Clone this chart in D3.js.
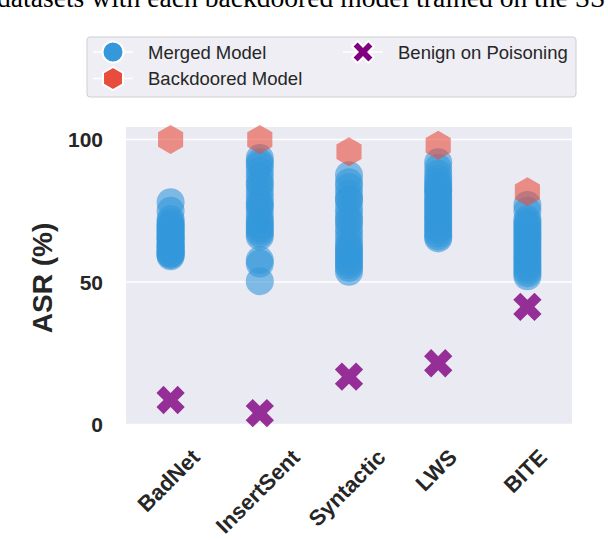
<!DOCTYPE html>
<html>
<head>
<meta charset="utf-8">
<script src="https://cdn.jsdelivr.net/npm/d3@7"></script>
<style>
  html, body { margin: 0; padding: 0; background: #ffffff; }
  svg { display: block; }
</style>
</head>
<body>
<svg id="chart" width="608" height="540"></svg>
<script>
// ---------------- data ----------------
const categories = ["BadNet", "InsertSent", "Syntactic", "LWS", "BITE"];

const mergedBadNet = [78, 75, 72, 71, 70, 69, 68, 67, 66, 66, 65, 64, 63, 63, 62, 62, 61, 61, 60, 60, 59.5, 59, 70, 68, 65];
const mergedInsertSent = [93.5, 92, 91, 89, 87, 85, 84, 82, 80, 78, 77, 76, 74, 72, 71, 70, 69, 68, 67, 66, 57.7, 56.5, 50.3];
const mergedSyntactic = [87.5, 85, 83.3, 81, 79, 78.6, 76, 74, 72, 71, 69, 67, 65, 63, 62, 61, 60, 59, 58, 57, 56, 55, 53.6];
const mergedLWS = [92, 90, 88, 86.4, 85, 84, 83, 82, 81.7, 80, 79, 78, 77, 76, 75, 74, 73, 72, 71, 70, 69, 68.2, 67, 66, 65.3];
const mergedBITE = [77, 75, 72, 71, 70, 69, 68, 67, 66, 65, 64, 63, 62, 61, 60, 59, 58, 57, 56, 55, 54, 53, 52];

const backdooredValues = [100, 100, 95.7, 98, 81.7];
const benignValues = [8.6, 4.0, 16.8, 21.5, 41.3];

const yTicks = [0, 50, 100];
const yLabel = "ASR (%)";
const legendLabels = ["Merged Model", "Backdoored Model", "Benign on Poisoning"];
const captionText = "datasets with each backdoored model trained on the SST-2";

// ---------------- setup ----------------
const svg = d3.select("#chart");
const plot = { left: 126, right: 572, top: 127, bottom: 424.5 };

const x = d3.scalePoint().domain(categories).range([plot.left, plot.right]).padding(0.5);
const y = d3.scaleLinear().domain([0, 104.4]).range([plot.bottom, plot.top]);

const mergedSeries = [mergedBadNet, mergedInsertSent, mergedSyntactic, mergedLWS, mergedBITE];
const mergedPoints = [];
categories.forEach((c, i) => mergedSeries[i].forEach(v => mergedPoints.push({ cat: c, v })));

const blue = "#3498db", red = "#e74c3c", purple = "#800080";

// caption (cut off at top of image, as in the source page)
svg.append("text")
  .attr("x", -3).attr("y", 7)
  .attr("font-family", "'Liberation Serif', 'DejaVu Serif', serif")
  .attr("font-size", 27.6)
  .attr("fill", "#000")
  .text(captionText);

// plot background
svg.append("rect")
  .attr("x", plot.left).attr("y", plot.top)
  .attr("width", plot.right - plot.left).attr("height", plot.bottom - plot.top)
  .attr("fill", "#eaeaf2");

// gridlines
svg.append("g").selectAll("line").data(yTicks).join("line")
  .attr("x1", plot.left).attr("x2", plot.right)
  .attr("y1", d => y(d)).attr("y2", d => y(d))
  .attr("stroke", "#ffffff").attr("stroke-width", 1.6);

// y tick labels
svg.append("g").selectAll("text").data(yTicks).join("text")
  .attr("x", 103).attr("y", d => y(d))
  .attr("text-anchor", "end").attr("dominant-baseline", "central")
  .attr("font-family", "'Liberation Sans', Arial, sans-serif")
  .attr("font-weight", "bold").attr("font-size", 21)
  .attr("fill", "#262626")
  .text(d => d);

// y label
svg.append("text")
  .attr("transform", `translate(42,278) rotate(-90)`)
  .attr("text-anchor", "middle").attr("dominant-baseline", "central")
  .attr("font-family", "'Liberation Sans', Arial, sans-serif")
  .attr("font-weight", "bold").attr("font-size", 28)
  .attr("fill", "#262626")
  .text(yLabel);

// x tick labels (rotated 45, centered on tick)
const fs = 22;
const xl = svg.append("g");
categories.forEach(c => {
  const t = xl.append("text")
    .attr("text-anchor", "middle").attr("dominant-baseline", "central")
    .attr("font-family", "'Liberation Sans', Arial, sans-serif")
    .attr("font-weight", "bold").attr("font-size", fs)
    .attr("fill", "#262626")
    .text(c);
  const w = t.node().getComputedTextLength();
  const h = (w + fs * 0.95) * Math.SQRT1_2;
  t.attr("transform", `translate(${x(c) - 2},${446 + h / 2}) rotate(-45)`);
});

// merged model circles
svg.append("g").selectAll("circle").data(mergedPoints).join("circle")
  .attr("cx", d => x(d.cat)).attr("cy", d => y(d.v))
  .attr("r", 14)
  .attr("fill", blue).attr("fill-opacity", 0.6);

// hexagon path (pointy top)
function hexPath(r) {
  const pts = d3.range(6).map(k => {
    const a = -Math.PI / 2 + k * Math.PI / 3;
    return [r * Math.cos(a), r * Math.sin(a)];
  });
  return "M" + pts.map(p => p.join(",")).join("L") + "Z";
}
// filled X path
function xPath(s) {
  const base = [[-1,-3],[1,-3],[1,-1],[3,-1],[3,1],[1,1],[1,3],[-1,3],[-1,1],[-3,1],[-3,-1],[-1,-1]];
  const c = Math.SQRT1_2;
  const pts = base.map(([px, py]) => {
    const a = px / 6 * s, b = py / 6 * s;
    return [a * c - b * c, a * c + b * c];
  });
  return "M" + pts.map(p => p.join(",")).join("L") + "Z";
}

// backdoored hexagons
svg.append("g").selectAll("path").data(backdooredValues).join("path")
  .attr("transform", (d, i) => `translate(${x(categories[i])},${y(d)})`)
  .attr("d", hexPath(14.5))
  .attr("fill", red).attr("fill-opacity", 0.6);

// benign X markers
svg.append("g").selectAll("path").data(benignValues).join("path")
  .attr("transform", (d, i) => `translate(${x(categories[i])},${y(d)})`)
  .attr("d", xPath(30))
  .attr("fill", purple).attr("fill-opacity", 0.8);

// ---------------- legend ----------------
const lg = svg.append("g");
lg.append("rect")
  .attr("x", 87).attr("y", 37).attr("width", 489).attr("height", 60)
  .attr("rx", 3).attr("ry", 3)
  .attr("fill", "#eeeef4").attr("stroke", "#cfcfd4").attr("stroke-width", 1);

const legendItems = [
  { label: legendLabels[0], mx: 113, my: 52, type: "circle", color: blue },
  { label: legendLabels[1], mx: 113, my: 78.5, type: "hex", color: red },
  { label: legendLabels[2], mx: 363, my: 52, type: "x", color: purple }
];
legendItems.forEach(it => {
  lg.append("line")
    .attr("x1", it.mx - 20).attr("x2", it.mx + 20)
    .attr("y1", it.my).attr("y2", it.my)
    .attr("stroke", "#ffffff").attr("stroke-width", 1.5);
  if (it.type === "circle") {
    lg.append("circle").attr("cx", it.mx).attr("cy", it.my).attr("r", 10.5)
      .attr("fill", it.color).attr("stroke", "#fff").attr("stroke-width", 2);
  } else if (it.type === "hex") {
    lg.append("path").attr("transform", `translate(${it.mx},${it.my})`)
      .attr("d", hexPath(11.5)).attr("fill", it.color).attr("stroke", "#fff").attr("stroke-width", 2);
  } else {
    lg.append("path").attr("transform", `translate(${it.mx},${it.my})`)
      .attr("d", xPath(23)).attr("fill", it.color).attr("stroke", "#fff").attr("stroke-width", 2);
  }
  lg.append("text")
    .attr("x", it.mx + 35).attr("y", it.my)
    .attr("dominant-baseline", "central")
    .attr("font-family", "'Liberation Sans', Arial, sans-serif")
    .attr("font-size", 18.5).attr("fill", "#262626")
    .text(it.label);
});
</script>
</body>
</html>
